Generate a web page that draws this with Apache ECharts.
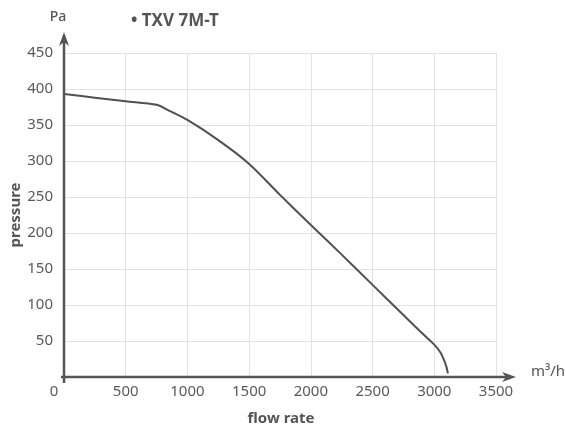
<!DOCTYPE html>
<html><head><meta charset="utf-8">
<script src="https://cdn.jsdelivr.net/npm/echarts@6/dist/echarts.min.js"></script>
<style>html,body{margin:0;padding:0;background:#fff}#c{width:566px;height:431px}</style>
</head><body><div id="c"></div>
<script>
const chartTitle = '• TXV 7M-T';
const xName = 'flow rate';
const yName = 'pressure';
const xUnit = 'm³/h';
const yUnit = 'Pa';
const flow =     [0,   250, 500, 750, 850, 1000, 1250, 1500, 1750, 2000, 2250, 2500, 2750, 2900, 3000, 3050, 3080, 3100, 3110];
const pressure = [393, 388, 383, 378, 370, 357,  329,  296,  253,  211,  170,  128,  86,   61,   45,   34,   23,   13,   5];
const xTicks = [0, 500, 1000, 1500, 2000, 2500, 3000, 3500];
const yTicks = [0, 50, 100, 150, 200, 250, 300, 350, 400, 450];

const FONT = 'Noto Sans';
const AX = '#555';
const chart = echarts.init(document.getElementById('c'), null, {renderer: 'canvas'});
const option = {
  animation: false,
  backgroundColor: '#fff',
  grid: {left: 64, right: 70, top: 53, bottom: 54, containLabel: false},
  title: {text: chartTitle, left: 126, top: 8,
    textStyle: {fontFamily: FONT, fontSize: 17, fontWeight: 'bold', color: '#555'}},
  xAxis: {
    type: 'value', min: xTicks[0], max: xTicks[xTicks.length - 1], interval: xTicks[1] - xTicks[0],
    axisLine: {show: false}, axisTick: {show: false},
    splitLine: {show: true, lineStyle: {color: '#e2e2e2', width: 1}},
    axisLabel: {margin: 7, color: '#5a5a5a', fontFamily: FONT, fontSize: 15,
      formatter: v => v === 0 ? '{z|0}' : String(v),
      rich: {z: {padding: [0, 20, 0, 0], fontFamily: FONT, fontSize: 15, color: '#5a5a5a'}}}
  },
  yAxis: {
    type: 'value', min: yTicks[0], max: yTicks[yTicks.length - 1], interval: yTicks[1] - yTicks[0],
    axisLine: {show: false}, axisTick: {show: false},
    splitLine: {show: true, lineStyle: {color: '#e2e2e2', width: 1}},
    axisLabel: {margin: 11, showMinLabel: false, color: '#5a5a5a', fontFamily: FONT, fontSize: 15}
  },
  series: [{
    type: 'line', data: flow.map((f, i) => [f, pressure[i]]),
    showSymbol: false, smooth: 0.3, z: 5,
    lineStyle: {color: '#505050', width: 2}
  }]
};
chart.setOption(option);

const o = chart.convertToPixel({gridIndex: 0}, [xTicks[0], yTicks[0]]);
const xe = chart.convertToPixel({gridIndex: 0}, [xTicks[xTicks.length - 1], yTicks[0]]);
const ye = chart.convertToPixel({gridIndex: 0}, [xTicks[0], yTicks[yTicks.length - 1]]);
const ox = Math.round(o[0]), oy = Math.round(o[1]);
const xt = xe[0] + 20, yt = ye[1] - 21;
chart.setOption({
  graphic: [
    {type: 'line', z: 100, shape: {x1: ox - 3, y1: oy, x2: xt - 8, y2: oy}, style: {stroke: AX, lineWidth: 2.5}},
    {type: 'line', z: 100, shape: {x1: ox, y1: oy + 6, x2: ox, y2: yt + 8}, style: {stroke: AX, lineWidth: 2.5}},
    {type: 'polygon', z: 101, shape: {points: [[xt, oy], [xt - 14, oy - 5], [xt - 10, oy], [xt - 14, oy + 5]]}, style: {fill: AX}},
    {type: 'polygon', z: 101, shape: {points: [[ox, yt], [ox - 5, yt + 14], [ox, yt + 10], [ox + 5, yt + 14]]}, style: {fill: AX}},
    {type: 'text', z: 102, style: {text: yUnit, x: 58, y: 17, align: 'center', verticalAlign: 'middle',
      font: '500 14px "Noto Sans"', fill: '#555'}},
    {type: 'text', z: 102, style: {text: xUnit, x: 531, y: 372, align: 'left', verticalAlign: 'middle',
      font: '15px "Noto Sans"', fill: '#555'}},
    {type: 'text', z: 102, style: {text: xName, x: 281, y: 419, align: 'center', verticalAlign: 'middle',
      font: 'bold 15px "Noto Sans"', fill: '#555'}},
    {type: 'text', z: 102, rotation: Math.PI / 2, x: 16, y: 215,
      style: {text: yName, x: 0, y: 0, align: 'center', verticalAlign: 'middle',
      font: 'bold 15px "Noto Sans"', fill: '#555'}}
  ]
});
</script></body></html>
